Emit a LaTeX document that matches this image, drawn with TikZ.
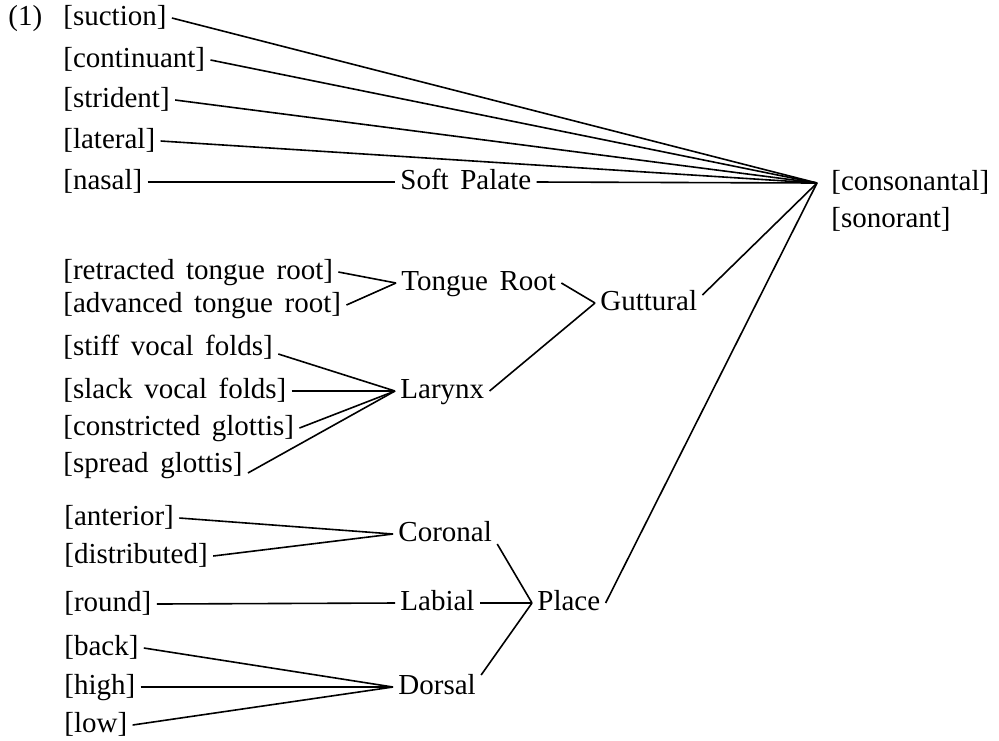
\documentclass[tikz,border=0pt]{standalone}
\usepackage{fontspec}
\setmainfont[WordSpace=1.6]{Liberation Serif}
\begin{document}
\begin{tikzpicture}[x=0.5pt,y=-0.5pt,
  lbl/.style={anchor=west,inner xsep=2.5pt,inner ysep=0pt,text height=10pt,text depth=3pt,font=\fontsize{14.5pt}{17pt}\selectfont},
  link/.style={line width=0.8pt}]
\useasboundingbox (0,0) rectangle (999,740);
% labels
\node[lbl] (ex) at (3,18) {(1)};
\node[lbl] (suc) at (58,18) {[suction]};
\node[lbl] (cont) at (58,60) {[continuant]};
\node[lbl] (strid) at (58,100) {[strident]};
\node[lbl] (lat) at (58,141) {[lateral]};
\node[lbl] (nas) at (58,182) {[nasal]};
\node[lbl] (soft) at (395,182) {Soft Palate};
\node[lbl,inner xsep=7pt] (cons) at (817,183) {[consonantal]};
\node[lbl] (son) at (826,220) {[sonorant]};
\node[lbl] (rtr) at (58,272) {[retracted tongue root]};
\node[lbl] (atr) at (58,305) {[advanced tongue root]};
\node[lbl] (troot) at (396,283) {Tongue Root};
\node[lbl] (gutt) at (595,303) {Guttural};
\node[lbl] (stiff) at (58,348) {[stiff vocal folds]};
\node[lbl] (slack) at (58,391) {[slack vocal folds]};
\node[lbl] (cg) at (58,428) {[constricted glottis]};
\node[lbl] (sg) at (58,465) {[spread glottis]};
\node[lbl] (lar) at (395,391) {Larynx};
\node[lbl] (ant) at (59,518) {[anterior]};
\node[lbl] (dist) at (59,556) {[distributed]};
\node[lbl] (cor) at (393,534) {Coronal};
\node[lbl] (rnd) at (59,604) {[round]};
\node[lbl] (lab) at (395,603) {Labial};
\node[lbl] (plc) at (532,603) {Place};
\node[lbl] (back) at (59,648) {[back]};
\node[lbl] (high) at (59,687) {[high]};
\node[lbl] (low) at (59,725) {[low]};
\node[lbl] (dor) at (393,687) {Dorsal};
% connectors
\draw[link] (suc.east) -- (cons.west);
\draw[link] (cont.east) -- (cons.west);
\draw[link] (strid.east) -- (cons.west);
\draw[link] (lat.east) -- (cons.west);
\draw[link] (nas.east) -- (soft.west);
\draw[link] (soft.east) -- (cons.west);
\draw[link] (rtr.east) -- (troot.west);
\draw[link] (atr.east) -- (troot.west);
\draw[link] (troot.east) -- (gutt.west);
\draw[link] (lar.east) -- (gutt.west);
\draw[link] ([yshift=4pt]gutt.east) -- (cons.west);
\draw[link] ([yshift=-3pt]stiff.east) -- (lar.west);
\draw[link] (slack.east) -- (lar.west);
\draw[link] (cg.east) -- (lar.west);
\draw[link] ([yshift=-4pt]sg.east) -- (lar.west);
\draw[link] (ant.east) -- (cor.west);
\draw[link] (dist.east) -- (cor.west);
\draw[link] (rnd.east) -- (lab.west);
\draw[link] (back.east) -- (dor.west);
\draw[link] (high.east) -- (dor.west);
\draw[link] (low.east) -- (dor.west);
\draw[link] ([yshift=-5pt]cor.east) -- (plc.west);
\draw[link] (lab.east) -- (plc.west);
\draw[link] ([yshift=6pt]dor.east) -- (plc.west);
\draw[link] (plc.east) -- (cons.west);
\end{tikzpicture}
\end{document}
